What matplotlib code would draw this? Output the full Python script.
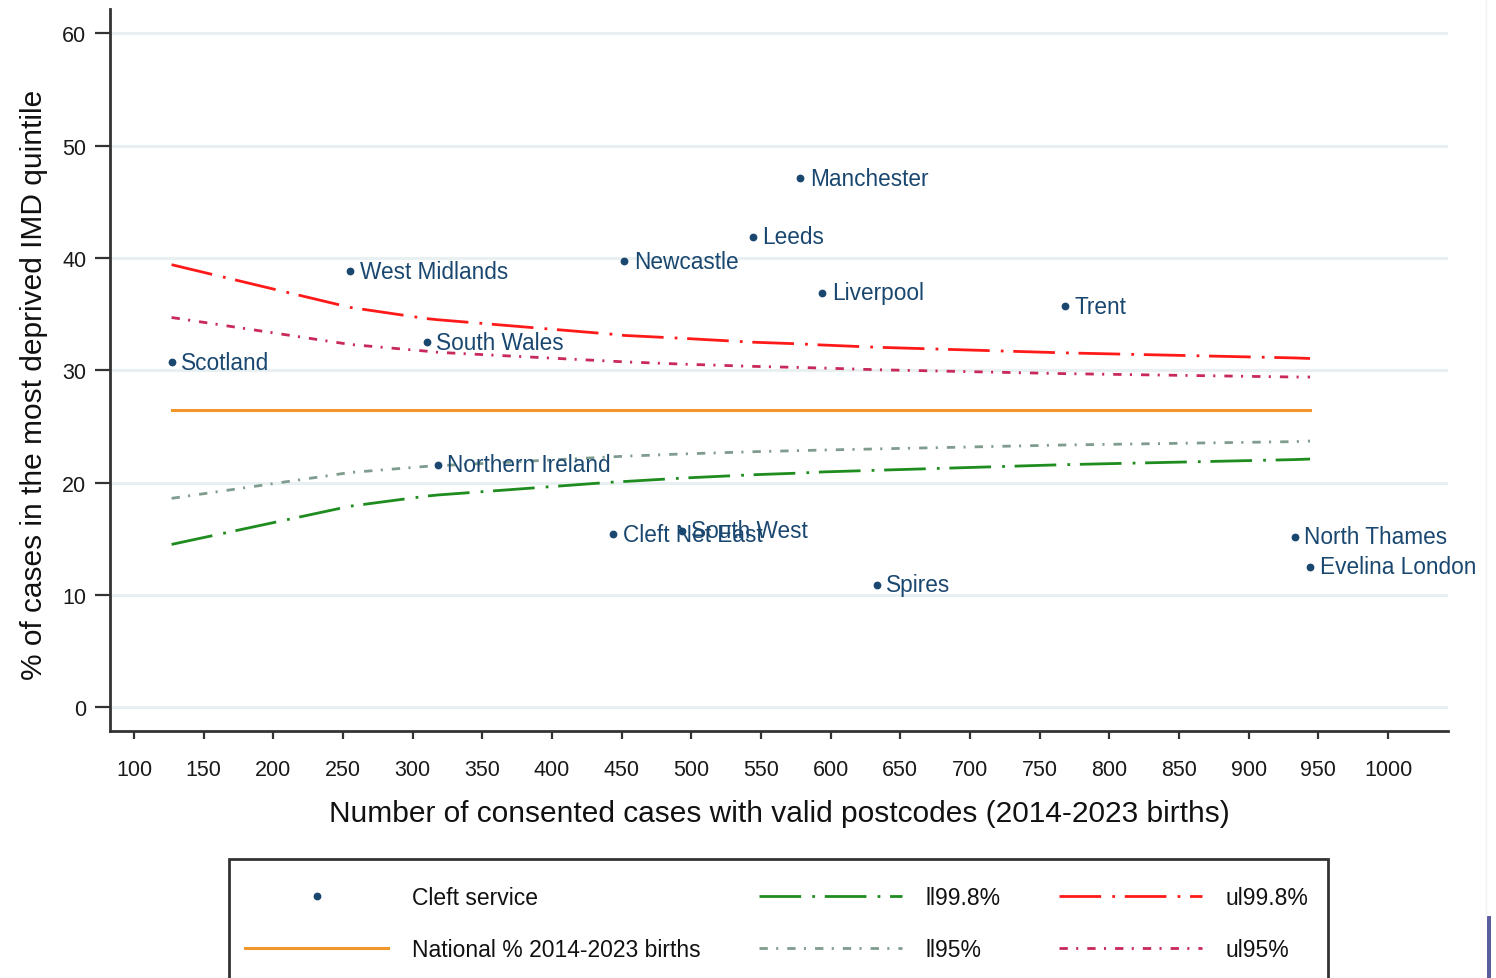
import matplotlib
matplotlib.use("Agg")
import matplotlib.pyplot as plt
from matplotlib.lines import Line2D
from matplotlib.patches import Rectangle

# ---------------- data ----------------
services = ["Scotland", "West Midlands", "South Wales", "Northern Ireland", "Newcastle",
            "Cleft Net East", "South West", "Leeds", "Manchester", "Liverpool", "Spires",
            "Trent", "North Thames", "Evelina London"]
n_cases = [127, 255, 310, 318, 452, 444, 493, 544, 578, 594, 633, 768, 933, 944]
pct_deprived = [30.7, 38.8, 32.5, 21.6, 39.7, 15.4, 15.7, 41.9, 47.1, 36.9, 10.9, 35.7, 15.2, 12.5]

national_pct = 26.5

limit_n = [127, 255, 310, 318, 444, 452, 493, 544, 578, 594, 633, 768, 933, 944]
ul998 = [39.4, 35.6, 34.6, 34.5, 33.2, 33.1, 32.85, 32.5, 32.35, 32.25, 32.05, 31.55, 31.1, 31.05]
ul95 = [34.7, 32.3, 31.7, 31.6, 30.8, 30.75, 30.55, 30.35, 30.25, 30.2, 30.05, 29.7, 29.4, 29.4]
ll95 = [18.6, 20.9, 21.45, 21.5, 22.3, 22.35, 22.55, 22.75, 22.85, 22.9, 23.0, 23.35, 23.65, 23.7]
ll998 = [14.5, 17.9, 18.8, 18.9, 20.05, 20.1, 20.4, 20.7, 20.85, 20.95, 21.1, 21.6, 22.05, 22.1]

x_ticks = list(range(100, 1001, 50))
y_ticks = [0, 10, 20, 30, 40, 50, 60]

# ---------------- style ----------------
plt.rcParams['font.family'] = ['Liberation Sans', 'DejaVu Sans']
plt.rcParams['lines.scale_dashes'] = False
legend_size = 16.5

navy = "#1a476f"
red = "#ff1a1a"
cranberry = "#c8285a"
green = "#1e8c1e"
graygreen = "#7f9c8e"
orange = "#f0962a"
grid_c = "#e8f0f1"

W, H = 1496, 979
fig = plt.figure(figsize=(W / 100, H / 100), dpi=100)
fig.patch.set_facecolor("white")
ax = fig.add_axes([110 / W, 1 - 732 / H, (1448 - 110) / W, (732 - 10) / H])

ax.set_xlim(82.8, 1043)
ax.set_ylim(-2.11, 62.16)

for s in ["top", "right"]:
    ax.spines[s].set_visible(False)
for s in ["left", "bottom"]:
    ax.spines[s].set_color("#333333")
    ax.spines[s].set_linewidth(2.0)

ax.set_yticks(y_ticks)
ax.set_xticks(x_ticks)
ax.yaxis.grid(True, color=grid_c, linewidth=2.2)
ax.set_axisbelow(True)
ax.tick_params(axis='x', length=6, width=1.6, color="#333333", pad=14.5, labelsize=15.5, labelcolor="#1a1a1a")
ax.tick_params(axis='y', length=11, width=1.6, color="#333333", pad=6, labelsize=15.5, labelcolor="#1a1a1a")

ld_long = (0, (30, 8, 2, 7))
ld_short = (0, (6, 6, 1.5, 6.5))

ax.plot(limit_n, ul998, color=red, lw=2.0, linestyle=ld_long, label="ul99.8%")
ax.plot(limit_n, ul95, color=cranberry, lw=2.0, linestyle=ld_short, label="ul95%")
ax.plot(limit_n, ll95, color=graygreen, lw=2.0, linestyle=ld_short, label="ll95%")
ax.plot(limit_n, ll998, color=green, lw=2.0, linestyle=ld_long, label="ll99.8%")
ax.plot([min(limit_n), max(limit_n)], [national_pct, national_pct], color=orange, lw=2.2,
        label="National % 2014-2023 births")

ax.plot(n_cases, pct_deprived, linestyle="none", marker="o", markersize=4.6, color=navy,
        label="Cleft service")
for name, x, y in zip(services, n_cases, pct_deprived):
    ax.annotate(name, (x, y), xytext=(7, 0), textcoords="offset points", va="center",
                ha="left", fontsize=16.3, color=navy)

ax.set_xlabel("Number of consented cases with valid postcodes (2014-2023 births)",
              fontsize=21.5, labelpad=13.5, color="#111111")
ax.set_ylabel("% of cases in the most deprived IMD quintile", fontsize=21.5, color="#111111")
ax.yaxis.set_label_coords((48 - 110) / 1338, (732 - 385) / 722)

# legend (frame drawn separately so it runs off the bottom edge like the reference)
h_pt = Line2D([], [], linestyle="none", marker="o", markersize=4.6, color=navy)
h_nat = Line2D([], [], color=orange, lw=2.2)
h_ll998 = Line2D([], [], color=green, lw=2.0, linestyle=ld_long)
h_ll95 = Line2D([], [], color=graygreen, lw=2.0, linestyle=ld_short)
h_ul998 = Line2D([], [], color=red, lw=2.0, linestyle=ld_long)
h_ul95 = Line2D([], [], color=cranberry, lw=2.0, linestyle=ld_short)
handles = [h_pt, h_nat, h_ll998, h_ll95, h_ul998, h_ul95]
labels = ["Cleft service", "National % 2014-2023 births", "ll99.8%", "ll95%", "ul99.8%", "ul95%"]
fs_px = legend_size * 100 / 72
leg = fig.legend(handles, labels, ncol=3, loc="upper left",
                 bbox_to_anchor=(245 / W, 1 - 887 / H),
                 prop={'size': legend_size},
                 handlelength=143 / fs_px, handletextpad=24 / fs_px,
                 columnspacing=58 / fs_px, labelspacing=1.28, borderpad=0,
                 frameon=False, borderaxespad=0)
for t in leg.get_texts():
    t.set_color("#111111")
fig.add_artist(Rectangle((229 / W, -0.05), (1328 - 229) / W, (1 - 860 / H) + 0.05,
                         transform=fig.transFigure, facecolor="none",
                         edgecolor="#333333", lw=2.0))

# screenshot artifacts at right edge
fig.add_artist(Line2D([1486 / W, 1486 / W], [1 - 917 / H, 1], transform=fig.transFigure,
                      color="#f2f2f2", lw=1.0))
fig.add_artist(Rectangle((1487 / W, 0), 4 / W, 62 / H, transform=fig.transFigure,
                         color="#5a5e9c", lw=0))

fig.savefig("out.png", dpi=100)
